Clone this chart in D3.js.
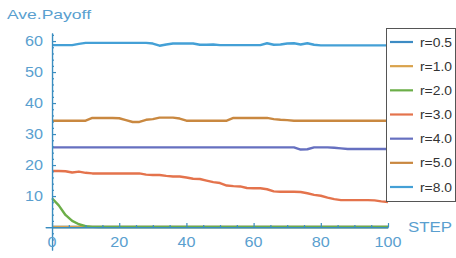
<!DOCTYPE html>
<html>
<head>
<meta charset="utf-8">
<script src="https://cdn.jsdelivr.net/npm/d3@7"></script>
<style>
  body { margin: 0; background: #fff; }
  text { font-family: "Liberation Sans", Arial, sans-serif; }
</style>
</head>
<body>
<script>
// steps sampled every 2
let steps = [0,2,4,6,8,10,12,14,16,18,20,22,24,26,28,30,32,34,36,38,40,42,44,46,48,50,
  52,54,56,58,60,62,64,66,68,70,72,74,76,78,80,82,84,86,88,90,92,94,96,98,100];

let r05 = [0,0,0,0,0,0,0,0,0,0,0,0,0,0,0,0,0,0,0,0,0,0,0,0,0,0,0,0,0,0,0,0,0,0,0,0,0,0,0,0,0,0,0,0,0,0,0,0,0,0,0];
let r10 = [0,0,0,0,0,0,0,0,0,0,0,0,0,0,0,0,0,0,0,0,0,0,0,0,0,0,0,0,0,0,0,0,0,0,0,0,0,0,0,0,0,0,0,0,0,0,0,0,0,0,0];
let r20 = [9.3,7.0,3.9,2.0,0.9,0.3,0.05,0,0,0,0,0,0,0,0,0,0,0,0,0,0,0,0,0,0,0,0,0,0,0,0,0,0,0,0,0,0,0,0,0,0,0,0,0,0,0,0,0,0,0,0];
let r30 = [18.1,18.1,18.0,17.6,17.9,17.5,17.3,17.3,17.3,17.3,17.3,17.3,17.3,17.3,
  16.9,16.8,16.8,16.5,16.3,16.3,16.0,15.6,15.5,15.0,14.5,14.2,13.4,13.2,13.1,12.6,12.5,12.5,12.2,
  11.5,11.4,11.4,11.4,11.3,10.9,10.4,10.1,9.5,9.0,8.7,8.7,8.7,8.7,8.7,8.6,8.3,8.1];
let r40 = [25.7,25.7,25.7,25.7,25.7,25.7,25.7,25.7,25.7,25.7,25.7,25.7,25.7,25.7,25.7,25.7,25.7,25.7,25.7,
  25.7,25.7,25.7,25.7,25.7,25.7,25.7,25.7,25.7,25.7,25.7,25.7,25.7,25.7,25.7,25.7,25.7,25.7,
  25.0,25.1,25.7,25.7,25.7,25.6,25.4,25.2,25.2,25.2,25.2,25.2,25.2,25.2];
let r50 = [34.3,34.3,34.3,34.3,34.3,34.3,35.2,35.2,35.2,35.2,35.1,34.5,33.9,33.9,34.6,34.8,35.3,35.3,35.3,35.0,
  34.3,34.3,34.3,34.3,34.3,34.3,34.3,35.2,35.2,35.2,35.2,35.2,35.2,34.8,34.6,34.5,
  34.3,34.3,34.3,34.3,34.3,34.3,34.3,34.3,34.3,34.3,34.3,34.3,34.3,34.3,34.3];
let r80 = [58.7,58.7,58.7,58.7,59.1,59.4,59.4,59.4,59.4,59.4,59.4,59.4,59.4,59.4,59.4,59.2,58.5,58.9,
  59.2,59.2,59.2,59.2,58.8,58.8,58.9,58.7,58.7,58.7,58.7,58.7,58.7,58.7,59.3,58.8,58.9,59.2,59.3,58.9,59.3,58.8,
  58.6,58.6,58.6,58.6,58.6,58.6,58.6,58.6,58.6,58.6,58.6];

let seriesNames = ["r=0.5","r=1.0","r=2.0","r=3.0","r=4.0","r=5.0","r=8.0"];
let seriesValues = [r05, r10, r20, r30, r40, r50, r80];
let colors = ["#3d8cc4","#d9a24c","#6cae48","#e4734c","#6670c0","#c98840","#44a0d6"];

let yMajor = [10,20,30,40,50,60];
let yMinor = [-6,-4,-2,2,4,6,8,12,14,16,18,22,24,26,28,32,34,36,38,42,44,46,48,52,54,56,58,62];
let xMajor = [0,20,40,60,80,100];
let xMinor = [5,10,15,25,30,35,45,50,55,65,70,75,85,90,95];

let axisColor = "#3a8dc0";
let labelColor = "#5a9fcf";

let svg = d3.select("body").append("svg")
  .attr("width", 456)
  .attr("height", 258);

let x = d3.scaleLinear().domain([-2, 100]).range([45.3, 388]);
let y = d3.scaleLinear().domain([-7.4, 62.6]).range([250, 33]);

// lines
let line = d3.line()
  .x((d, i) => x(steps[i]))
  .y(d => y(d));

seriesValues.forEach(function(vals, k){
  svg.append("path")
    .attr("d", line(vals))
    .attr("fill", "none")
    .attr("stroke", colors[k])
    .attr("stroke-width", 2.4)
    .attr("stroke-linejoin", "round");
});

// axes (Mathematica style, crossing at origin, ticks pointing inward)
function styleAxis(g){
  g.selectAll("path, line").attr("stroke", axisColor).attr("stroke-width", 1.2);
}

svg.append("g").attr("transform", "translate(" + x(0) + ",0)")
  .call(d3.axisRight(y).tickValues(yMinor).tickSize(2).tickSizeOuter(0).tickFormat(""))
  .call(styleAxis);
svg.append("g").attr("transform", "translate(" + x(0) + ",0)")
  .call(d3.axisRight(y).tickValues(yMajor).tickSize(4).tickSizeOuter(0).tickFormat(""))
  .call(styleAxis);

svg.append("g").attr("transform", "translate(0," + y(0) + ")")
  .call(d3.axisTop(x).tickValues(xMinor).tickSize(2).tickSizeOuter(0).tickFormat(""))
  .call(styleAxis);
svg.append("g").attr("transform", "translate(0," + y(0) + ")")
  .call(d3.axisTop(x).tickValues(xMajor).tickSize(4).tickSizeOuter(0).tickFormat(""))
  .call(styleAxis);

// tick labels (the picture is a bit stretched horizontally)
svg.selectAll(".ylab").data(yMajor).enter()
  .append("text")
    .attr("x", 43)
    .attr("y", d => y(d) + 5)
    .attr("text-anchor", "end")
    .attr("font-size", 14)
    .attr("textLength", 18)
    .attr("lengthAdjust", "spacingAndGlyphs")
    .attr("fill", labelColor)
    .text(d => d);

svg.selectAll(".xlab").data(xMajor).enter()
  .append("text")
    .attr("x", d => x(d))
    .attr("y", 247)
    .attr("text-anchor", "middle")
    .attr("font-size", 14)
    .attr("textLength", d => String(d).length * 9)
    .attr("lengthAdjust", "spacingAndGlyphs")
    .attr("fill", labelColor)
    .text(d => d);

svg.append("text")
  .attr("x", 7).attr("y", 19)
  .attr("font-size", 13)
  .attr("textLength", 84)
  .attr("lengthAdjust", "spacingAndGlyphs")
  .attr("fill", labelColor)
  .text("Ave.Payoff");

svg.append("text")
  .attr("x", 408).attr("y", 232)
  .attr("font-size", 14)
  .attr("textLength", 44)
  .attr("lengthAdjust", "spacingAndGlyphs")
  .attr("fill", labelColor)
  .text("STEP");

// legend
let legend = svg.append("g");
legend.append("rect")
  .attr("x", 386.5).attr("y", 28.5)
  .attr("width", 69).attr("height", 173)
  .attr("fill", "#fff")
  .attr("stroke", "#555")
  .attr("stroke-width", 1);

let ly = d3.scalePoint().domain(seriesNames).range([42, 187]);

legend.selectAll(".lgline").data(seriesNames).enter()
  .append("line")
    .attr("x1", 390).attr("x2", 413)
    .attr("y1", d => ly(d)).attr("y2", d => ly(d))
    .attr("stroke", (d, i) => colors[i])
    .attr("stroke-width", 2.2);

legend.selectAll(".lgtext").data(seriesNames).enter()
  .append("text")
    .attr("x", 420)
    .attr("y", d => ly(d) + 4.5)
    .attr("font-size", 12)
    .attr("textLength", 32)
    .attr("lengthAdjust", "spacingAndGlyphs")
    .attr("fill", "#333")
    .text(d => d);
</script>
</body>
</html>
